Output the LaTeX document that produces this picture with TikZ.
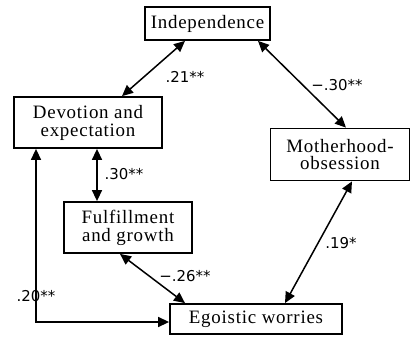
\documentclass[tikz,border=0pt]{standalone}
\usepackage{fontspec}
\setmainfont{Liberation Serif}[LetterSpace=4]
\newfontfamily\coeffont{DejaVu Sans}
\usepackage{tikz}
\usetikzlibrary{arrows.meta}

\begin{document}
\begin{tikzpicture}[x=1bp, y=-1bp,
    factor/.style={draw, line width=1.8bp, inner sep=0pt, align=center,
        font=\fontsize{19}{18}\selectfont},
    link/.style={line width=1.5bp,
        {Triangle[length=11bp,width=10bp]}-{Triangle[length=11bp,width=10bp]}},
    coef/.style={font=\coeffont\fontsize{15}{16}\selectfont, inner sep=0pt}]
    \useasboundingbox (0,0) rectangle (412,337);

    % Faktoren
    \node[factor, minimum width=125bp, minimum height=33bp] (indep) at (207.5,23.5) {Independence};
    \node[factor, minimum width=148bp, minimum height=51bp] (devot) at (88,122.5) {Devotion and\\expectation};
    \node[factor, minimum width=139bp, minimum height=52bp] (mother) at (340,154.5) {Motherhood-\\obsession};
    \node[factor, minimum width=128bp, minimum height=51bp] (fulfil) at (128,227.5) {Fulfillment\\and growth};
    \node[factor, minimum width=172bp, minimum height=30bp] (ego) at (256,319) {Egoistic worries};

    % Korrelationen
    \draw[link] ([xshift=-22.5bp]indep.south) -- ([xshift=34bp]devot.north);
    \draw[link] ([xshift=50.5bp]indep.south) -- ([xshift=6bp]mother.north);
    \draw[link] ([xshift=9bp]devot.south) -- ([xshift=9bp]devot.south |- fulfil.north);
    \draw[link] ([xshift=-52bp]devot.south) |- ([yshift=-3bp]ego.west);
    \draw[link] ([xshift=-8bp]fulfil.south) -- ([xshift=-71bp]ego.north);
    \draw[link] ([xshift=12bp]mother.south) -- ([xshift=29bp]ego.north);

    % Koeffizienten
    \node[coef] (c1) at (185,77) {.21**};
    \node[coef] (c2) at (337,85) {−.30**};
    \node[coef] (c3) at (124,174) {.30**};
    \node[coef] (c4) at (36,296) {.20**};
    \node[coef] (c5) at (185,276) {−.26**};
    \node[coef] (c6) at (341,243) {.19*};
\end{tikzpicture}
\end{document}
